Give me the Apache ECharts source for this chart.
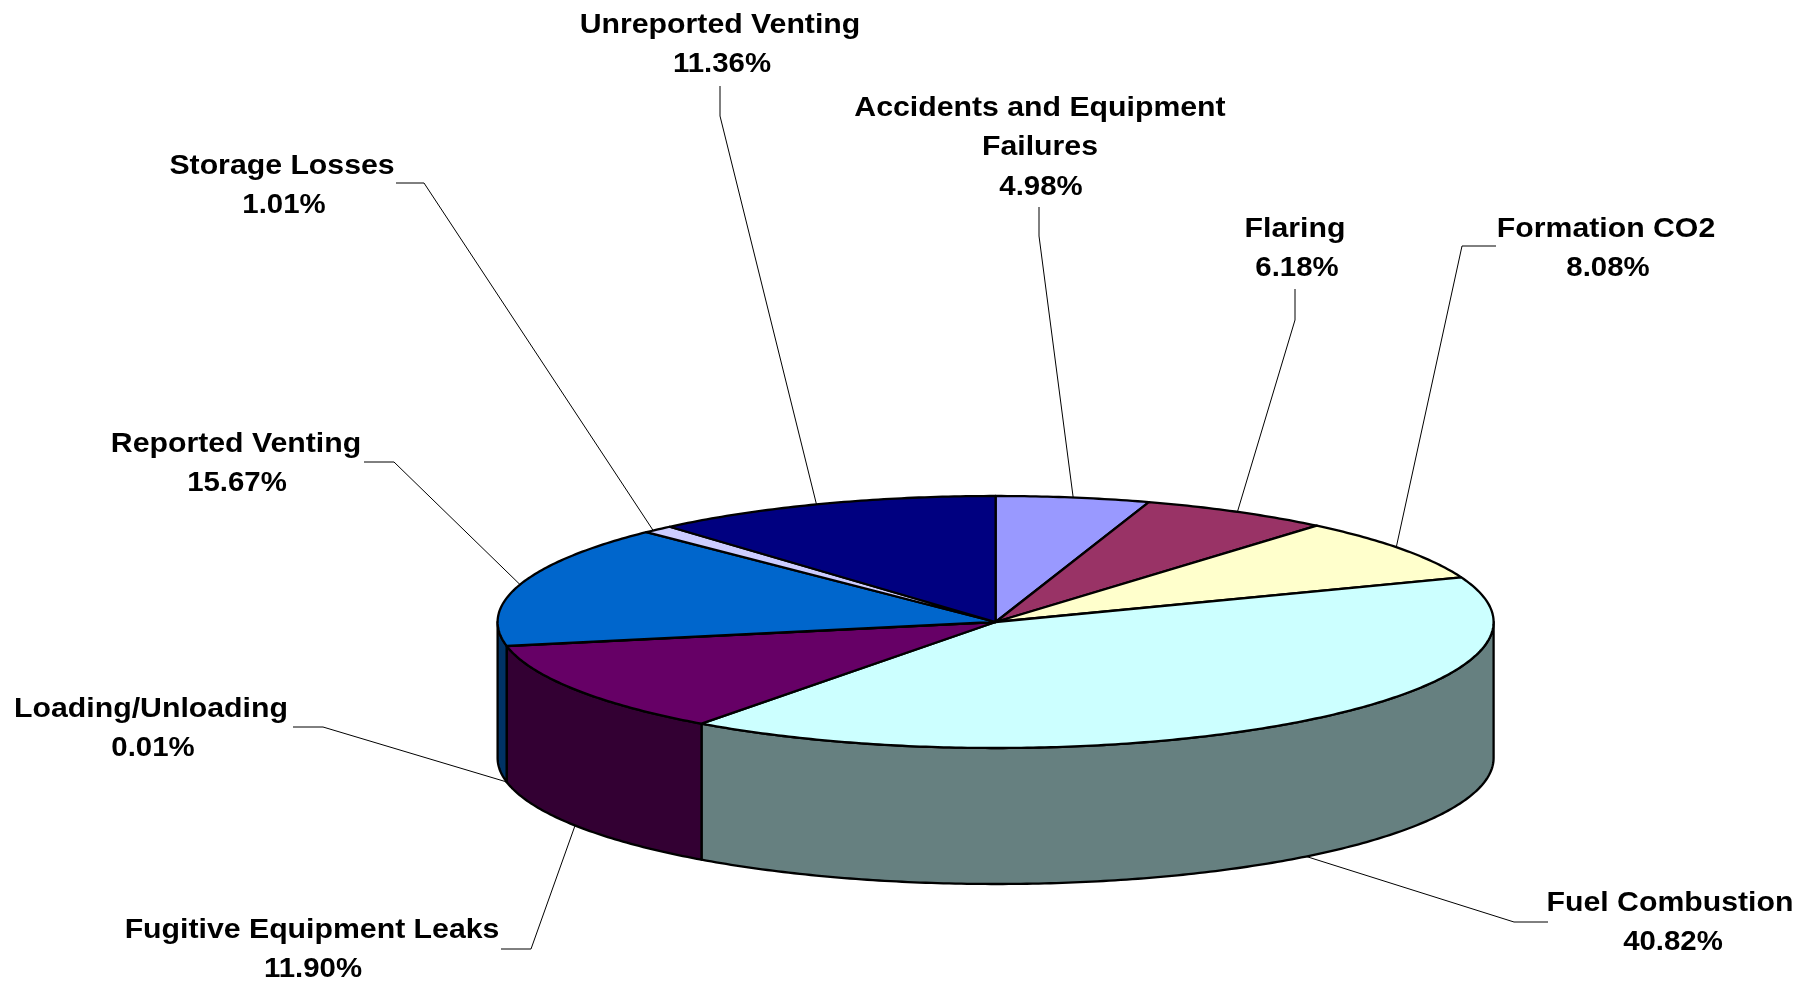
<!DOCTYPE html>
<html>
<head>
<meta charset="utf-8">
<style>html,body{margin:0;padding:0;background:#fff}#c{width:1812px;height:989px}</style>
<script src="https://cdn.jsdelivr.net/npm/echarts@6/dist/echarts.min.js"></script>
</head>
<body>
<div id="c"></div>
<script>
// Data, clockwise from 12 o'clock
const categories = ['Accidents and Equipment\nFailures','Flaring','Formation CO2','Fuel Combustion','Fugitive Equipment Leaks','Loading/Unloading','Reported Venting','Storage Losses','Unreported Venting'];
const shares = [4.98,6.18,8.08,40.82,11.90,0.01,15.67,1.01,11.36];
const shareLabels = ['4.98%','6.18%','8.08%','40.82%','11.90%','0.01%','15.67%','1.01%','11.36%'];
const topColors = ['#9999FF','#993366','#FFFFCC','#CCFFFF','#660066','#FF8080','#0066CC','#CCCCFF','#000080'];
const sideColors = ['#4D4D80','#4D1A33','#808066','#668080','#330033','#804040','#003366','#666680','#000040'];

// Pie geometry
const CX = 995.6, CY = 622, RX = 498, RY = 126, DEPTH = 136;
const total = shares.reduce((a,b)=>a+b,0);
const starts = []; shares.reduce((a,v,i)=>(starts[i]=a,a+v),0);
const angle = s => s/total*Math.PI*2;
const rim = (a,dy) => [CX+RX*Math.sin(a), CY-RY*Math.cos(a)+(dy||0)];
function arc(a0,a1,dy){const n=Math.max(2,Math.ceil((a1-a0)/0.012));const p=[];for(let k=0;k<=n;k++)p.push(rim(a0+(a1-a0)*k/n,dy));return p;}

// Label layout: text centre x, first line centre y, percent x shift, leader start and elbow, leader angle nudge
const labelLayout = [
 {x:1040,y:108,pct:1,from:[1039,207],via:[1039,236],lean:0},
 {x:1295,y:229,pct:2,from:[1295,289],via:[1295,320],lean:0},
 {x:1606,y:229,pct:2,from:[1496,246],via:[1462,246],lean:-0.02},
 {x:1670,y:903,pct:3,from:[1548,922],via:[1514,922],lean:-0.023},
 {x:312,y:930,pct:1,from:[501,949],via:[531,949],lean:0},
 {x:151,y:709,pct:2,from:[293,727],via:[323,727],lean:0},
 {x:236,y:444,pct:1,from:[364,462],via:[394,462],lean:0},
 {x:282,y:166,pct:2,from:[396,183],via:[424,183],lean:-0.0127},
 {x:720,y:25,pct:2,from:[720,86],via:[720,116],lean:-0.011}
];
const FONT = 'bold 28px "Liberation Sans", Arial, sans-serif';
const LINE = 39.7, NAME_SX = 1.08, PCT_SX = 1.05;

const chart = echarts.init(document.getElementById('c'));
const rows = shares.map((v,i)=>({name:categories[i].replace('\n',' '),value:v}));
const edge = {stroke:'#000',lineWidth:2.3,lineJoin:'round'};

function sideItem(p){
  const i=p.dataIndex, a0=Math.max(angle(starts[i]),Math.PI/2), a1=Math.min(angle(starts[i]+shares[i]),Math.PI*1.5);
  if(a1<=a0) return {type:'group',children:[]};
  const pts=arc(a0,a1,0).concat(arc(a0,a1,DEPTH).reverse());
  return {type:'polygon',shape:{points:pts},style:Object.assign({fill:sideColors[i]},edge)};
}
function topItem(p){
  const i=p.dataIndex, a0=angle(starts[i]), a1=a0+angle(shares[i]);
  return {type:'polygon',shape:{points:[[CX,CY]].concat(arc(a0,a1,0))},style:Object.assign({fill:topColors[i]},edge)};
}
function labelItem(p){
  const i=p.dataIndex, L=labelLayout[i], mid=angle(starts[i]+shares[i]/2);
  const front=mid>Math.PI/2&&mid<Math.PI*1.5;
  const end=rim(mid+L.lean,front?DEPTH:0);
  const names=categories[i].split('\n');
  const lines=names.concat(shareLabels[i]);
  const kids=[{type:'polyline',shape:{points:[L.from,L.via,end]},style:{stroke:'#000',lineWidth:1,fill:null}}];
  lines.forEach((t,k)=>{const isName=k<names.length;kids.push({type:'text',x:L.x+(isName?0:L.pct),y:L.y+k*LINE,scaleX:isName?NAME_SX:PCT_SX,style:{text:t,font:FONT,fill:'#000',align:'center',verticalAlign:'middle'}});});
  return {type:'group',children:kids};
}
chart.setOption({
  animation:false,
  backgroundColor:'#fff',
  series:[
    {type:'custom',coordinateSystem:'none',z:1,silent:true,data:rows,renderItem:labelItem},
    {type:'custom',coordinateSystem:'none',z:2,silent:true,data:rows,renderItem:sideItem},
    {type:'custom',coordinateSystem:'none',z:3,silent:true,data:rows,renderItem:topItem}
  ]
});
</script>
</body>
</html>
